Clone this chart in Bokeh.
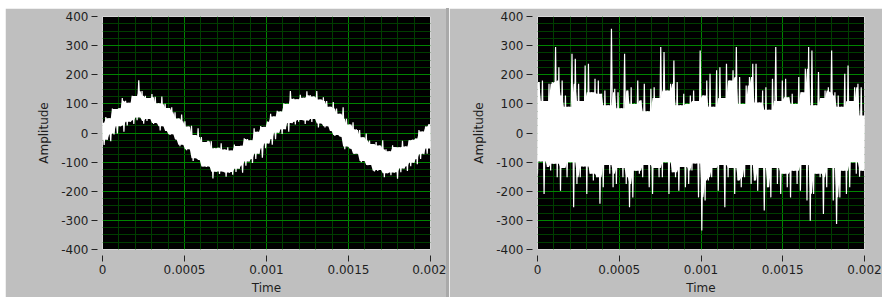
from bokeh.plotting import figure
from bokeh.models import Range1d, FixedTicker, Spacer
from bokeh.layouts import row
from bokeh.embed import file_html
from bokeh.resources import INLINE

# ---- tick definitions ----
x_ticks = [0, 0.0005, 0.001, 0.0015, 0.002]
x_tick_labels = ["0", "0.0005", "0.001", "0.0015", "0.002"]
x_minor = [0.0001, 0.0002, 0.0003, 0.0004, 0.0006, 0.0007, 0.0008, 0.0009,
           0.0011, 0.0012, 0.0013, 0.0014, 0.0016, 0.0017, 0.0018, 0.0019]
y_ticks = [-400, -300, -200, -100, 0, 100, 200, 300, 400]
y_tick_labels = ["-400", "-300", "-200", "-100", "0", "100", "200", "300", "400"]
y_minor = [-375, -350, -325, -275, -250, -225, -175, -150, -125, -75, -50, -25,
           25, 50, 75, 125, 150, 175, 225, 250, 275, 325, 350, 375]

x_label = "Time"
y_label = "Amplitude"
t_end = 0.002

# ---- left panel: averaged signal (upper / lower edges of the noisy band) ----
left_top = [35, 55, 51, 84, 82, 85, 120, 111, 104, 128, 127, 181, 144, 128, 120, 134, 124, 102, 125, 100,
            86, 88, 71, 50, 63, 40, 22, 25, -7, 16, -14, -31, -27, -28, -52, -51, -35, -57, -49, -60,
            -40, -45, -44, -18, -21, -25, 16, 4, 24, 21, 39, 66, 57, 76, 74, 102, 100, 144, 118, 116,
            131, 121, 143, 130, 125, 144, 115, 123, 110, 90, 106, 84, 66, 88, 49, 29, 37, 13, 10, -15,
            -2, -26, -38, -31, -43, -25, -56, -63, -42, -48, -49, -27, -46, -25, -23, -19, 10, 5, 22, 30]
left_bottom = [-41, -23, -28, -5, -2, 23, 4, 26, 39, 31, 44, 53, 32, 41, 48, 31, 34, 9, 23, 7,
               -7, -4, -22, -45, -40, -59, -56, -96, -87, -93, -115, -117, -115, -156, -133, -141, -132, -150, -136, -143,
               -134, -123, -136, -112, -98, -103, -89, -71, -85, -52, -36, -40, -21, 1, -3, 13, 4, 34, 29, 39,
               45, 31, 43, 38, 48, 19, 33, 19, 23, 7, -10, -7, -13, -56, -46, -54, -71, -71, -100, -96,
               -111, -110, -132, -130, -127, -152, -138, -145, -136, -157, -135, -122, -130, -114, -102, -107, -89, -73, -71, -53]

# ---- right panel: single noisy acquisition (alternating high / low samples) ----
right_high = [175, 180, 110, 169, 175, 295, 226, 180, 129, 90, 272, 255, 169, 110, 232, 238, 140, 186, 180, 135,
              146, 95, 358, 152, 140, 85, 272, 146, 157, 100, 180, 112, 169, 75, 152, 157, 120, 295, 278, 146,
              169, 249, 175, 95, 135, 100, 129, 146, 110, 283, 129, 180, 203, 90, 215, 226, 120, 238, 180, 215,
              295, 192, 100, 163, 192, 238, 238, 105, 146, 157, 80, 186, 295, 110, 180, 186, 123, 135, 100, 192,
              140, 221, 295, 283, 95, 209, 120, 146, 157, 283, 140, 129, 90, 203, 232, 110, 157, 169, 157, 60]
right_low = [-140, -98, -209, -117, -129, -106, -152, -198, -120, -152, -100, -255, -175, -152, -115, -209, -140, -163, -152, -243,
             -186, -110, -140, -186, -175, -120, -152, -175, -255, -221, -130, -140, -152, -110, -186, -209, -120, -152, -152, -100,
             -209, -135, -152, -198, -117, -186, -175, -129, -105, -221, -335, -232, -163, -152, -120, -198, -110, -255, -152, -120,
             -209, -163, -186, -152, -110, -175, -163, -198, -120, -266, -186, -221, -120, -175, -209, -140, -186, -221, -130, -175,
             -198, -110, -232, -301, -209, -140, -152, -278, -186, -120, -232, -312, -221, -130, -209, -186, -100, -140, -150, -130]


def interleave(a, b):
    out = []
    for u, v in zip(a, b):
        out.append(u)
        out.append(v)
    return out


def times(n):
    return [t_end * j / (n - 1) for j in range(n)]


def core(upper, lower, before, after):
    """Solid part of a dense trace: lowest nearby upper sample and
    highest nearby lower sample, one value per interleaved sample."""
    n = len(upper)
    up, lo = [], []
    for k in range(n):
        a, b = max(0, k - before), min(n, k + after + 1)
        u = min(upper[a:b])
        l = max(lower[a:b])
        if u < l:
            u = l = (u + l) / 2
        up += [u, u]
        lo += [l, l]
    return up, lo


left_y = interleave(left_top, left_bottom)
right_y = interleave(right_low, right_high)
left_t = times(len(left_y))
right_t = times(len(right_y))
left_cu, left_cl = core(left_top, left_bottom, 0, 1)
right_cu, right_cl = core(right_high, right_low, 1, 1)

GRAY = "#bfbfbf"
FONT = "DejaVu Sans"


def make_panel(width, left_border, right_border, t, y, cu, cl):
    p = figure(width=width, height=289,
               x_range=Range1d(0, t_end), y_range=Range1d(-400, 400),
               output_backend="svg", toolbar_location=None,
               min_border_left=left_border, min_border_right=right_border,
               min_border_top=8, min_border_bottom=47,
               background_fill_color="black", border_fill_color=GRAY,
               outline_line_color="#d6d6d6", outline_line_width=1,
               margin=(8, 0, 0, 0))
    p.xaxis.ticker = FixedTicker(ticks=x_ticks, minor_ticks=x_minor)
    p.yaxis.ticker = FixedTicker(ticks=y_ticks, minor_ticks=y_minor)
    p.xaxis.major_label_overrides = {v: s for v, s in zip(x_ticks, x_tick_labels)}
    p.yaxis.major_label_overrides = {v: s for v, s in zip(y_ticks, y_tick_labels)}
    p.xaxis.axis_label = x_label
    p.yaxis.axis_label = y_label
    for ax in (p.xaxis, p.yaxis):
        ax.axis_line_color = None
        ax.major_tick_line_color = "#222222"
        ax.major_tick_line_width = 1
        ax.minor_tick_line_color = None
        ax.major_label_text_font = FONT
        ax.major_label_text_font_size = "12px"
        ax.major_label_text_color = "#1e1e1e"
        ax.axis_label_text_font = FONT
        ax.axis_label_text_font_size = "12px"
        ax.axis_label_text_font_style = "normal"
        ax.axis_label_text_color = "#1e1e1e"
    p.xaxis.major_tick_in = -6
    p.xaxis.major_tick_out = 12
    p.xaxis.major_label_standoff = 3
    p.xaxis.axis_label_standoff = 4
    p.yaxis.major_tick_in = -5
    p.yaxis.major_tick_out = 11
    p.yaxis.major_label_standoff = 3
    p.yaxis.axis_label_standoff = 7
    for g in (p.xgrid, p.ygrid):
        g.grid_line_color = "#008400"
        g.grid_line_width = 1
        g.minor_grid_line_color = "#003e00"
        g.minor_grid_line_width = 1
    p.varea(x=t, y1=cl, y2=cu, fill_color="white", fill_alpha=1.0)
    p.line(t, y, line_color="white", line_width=1.2)
    return p


p1 = make_panel(441, 97, 16, left_t, left_y, left_cu, left_cl)
p1.margin = (8, 0, 0, 5)
sep = Spacer(width=3, height=289, margin=(8, 0, 0, 0),
             styles={"background-color": "#a9a9a9"})
p2 = make_panel(433, 88, 18, right_t, right_y, right_cu, right_cl)

layout = row(p1, sep, p2)
open("out.html", "w").write(file_html(layout, INLINE))
